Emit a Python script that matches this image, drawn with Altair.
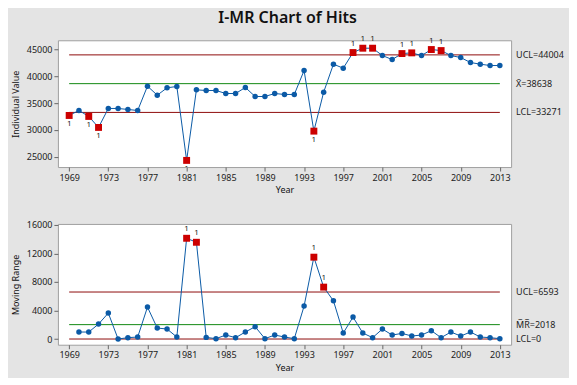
import altair as alt
import pandas as pd

years = [1969, 1970, 1971, 1972, 1973, 1974, 1975, 1976, 1977, 1978,
         1979, 1980, 1981, 1982, 1983, 1984, 1985, 1986, 1987, 1988,
         1989, 1990, 1991, 1992, 1993, 1994, 1995, 1996, 1997, 1998,
         1999, 2000, 2001, 2002, 2003, 2004, 2005, 2006, 2007, 2008,
         2009, 2010, 2011, 2012, 2013]
values = [32700, 33630, 32520, 30470, 34010, 34010, 33820, 33630, 38170, 36490,
          37860, 38110, 24320, 37480, 37360, 37360, 36800, 36800, 37920, 36240,
          36240, 36800, 36620, 36620, 41090, 29780, 37050, 42270, 41520, 44440,
          45250, 45250, 43880, 43140, 44250, 44380, 43880, 45000, 44810, 43880,
          43510, 42580, 42270, 42020, 42020]
mr_years = years[1:]
mr_values = [980, 980, 2100, 3640, 0, 190, 280, 4480, 1540, 1400,
             280, 14130, 13570, 230, 50, 560, 190, 980, 1730, 50,
             560, 280, 50, 4620, 11480, 7280, 5360, 840, 3080, 840,
             190, 1400, 560, 790, 420, 560, 1170, 190, 980, 420,
             980, 280, 190, 50]

i_limit_values = [44004, 38638, 33271]
i_limit_labels = ["UCL=44004", "X\u0304=38638", "LCL=33271"]
mr_limit_values = [6593, 2018, 0]
mr_limit_labels = ["UCL=6593", "M\u0305R\u0305=2018", "LCL=0"]
limit_kinds = ["UCL", "CL", "LCL"]
x_ticks = [1969, 1973, 1977, 1981, 1985, 1989, 1993, 1997, 2001, 2005, 2009, 2013]

FONT = "Noto Sans"
BLUE = "#0b5aa6"
RED = "#cc0000"
DKRED = "#8f0c0c"
GREEN = "#138a13"
W, H1, H2 = 454, 127, 121

x_scale = alt.Scale(domain=[1967.85, 2014.15], nice=False, zero=False)


def panel(years_, vals, ytitle, ydomain, yticks, lim_vals, lim_labels, height):
    ucl, lcl = lim_vals[0], lim_vals[2]
    df = pd.DataFrame({"Year": years_, "Value": vals})
    df["hi"] = df["Value"] > ucl
    df["lo"] = df["Value"] < lcl
    df["out"] = df["hi"] | df["lo"]
    x_axis = alt.Axis(values=x_ticks, format="d", title="Year", labelOverlap=False)
    y_axis = alt.Axis(values=yticks, format="d", title=ytitle, labelOverlap=False,
                      tickCount=len(yticks))
    y_scale = alt.Scale(domain=ydomain, nice=False, zero=False)
    x = alt.X("Year:Q", scale=x_scale, axis=x_axis)
    y = alt.Y("Value:Q", scale=y_scale, axis=y_axis)
    base = alt.Chart(df)
    line = base.mark_line(color=BLUE, strokeWidth=1).encode(x=x, y=y)
    pts = base.transform_filter("!datum.out").mark_circle(
        color=BLUE, size=30, opacity=1).encode(x=x, y=y)
    sq = base.transform_filter("datum.out").mark_square(
        color=RED, size=48, opacity=1).encode(x=x, y=y)
    lab_hi = base.transform_filter("datum.hi").mark_text(
        text="1", dy=-9, fontSize=8, font=FONT, color="#222").encode(x=x, y=y)
    lab_lo = base.transform_filter("datum.lo").mark_text(
        text="1", dy=9, fontSize=8, font=FONT, color="#222", clip=True).encode(x=x, y=y)

    lim = pd.DataFrame({"y": lim_vals, "label": lim_labels, "kind": limit_kinds,
                        "x0": [years[0]] * 3, "x1": [years[-1]] * 3})
    rules = alt.Chart(lim).mark_rule(strokeWidth=1).encode(
        x=alt.X("x0:Q", scale=x_scale, axis=x_axis), x2="x1:Q",
        y=alt.Y("y:Q", scale=y_scale, axis=y_axis),
        color=alt.Color("kind:N", scale=alt.Scale(domain=limit_kinds,
                                                  range=[DKRED, GREEN, DKRED]),
                        legend=None))
    texts = alt.Chart(lim).mark_text(align="left", baseline="middle", fontSize=9,
                                     font=FONT, color="#222").encode(
        x=alt.value(W + 5), y=alt.Y("y:Q", scale=y_scale, axis=y_axis), text="label:N")
    return alt.layer(rules, line, pts, sq, lab_hi, lab_lo, texts).properties(
        width=W, height=height)


top = panel(years, values, "Individual Value", [23080, 46730],
            [25000, 30000, 35000, 40000, 45000], i_limit_values, i_limit_labels, H1)
bottom = panel(mr_years, mr_values, "Moving Range", [-800, 16140],
               [0, 4000, 8000, 12000, 16000], mr_limit_values, mr_limit_labels, H2)

chart = alt.vconcat(top, bottom, spacing=57, bounds="flush").properties(
    title=alt.TitleParams("I-MR Chart of Hits", fontSize=16, font=FONT,
                          fontWeight=600, color="#111", anchor="middle", offset=9),
    padding={"left": 2, "top": 1, "right": 4, "bottom": 4},
).configure(background="#e4e4e4").configure_view(
    fill="white", stroke="#a0a0a0", strokeWidth=1
).configure_axis(
    labelFont=FONT, labelFontSize=9, labelColor="#222", titleFont=FONT,
    titleFontSize=9, titleFontWeight="normal", titleColor="#111", grid=False,
    domain=False, tickColor="#666", tickSize=4, labelPadding=2,
    labelOverlap=False
).configure_axisY(titlePadding=6).configure_axisX(titlePadding=4)

chart.save("out.html", embed_options={"renderer": "svg", "actions": False})
